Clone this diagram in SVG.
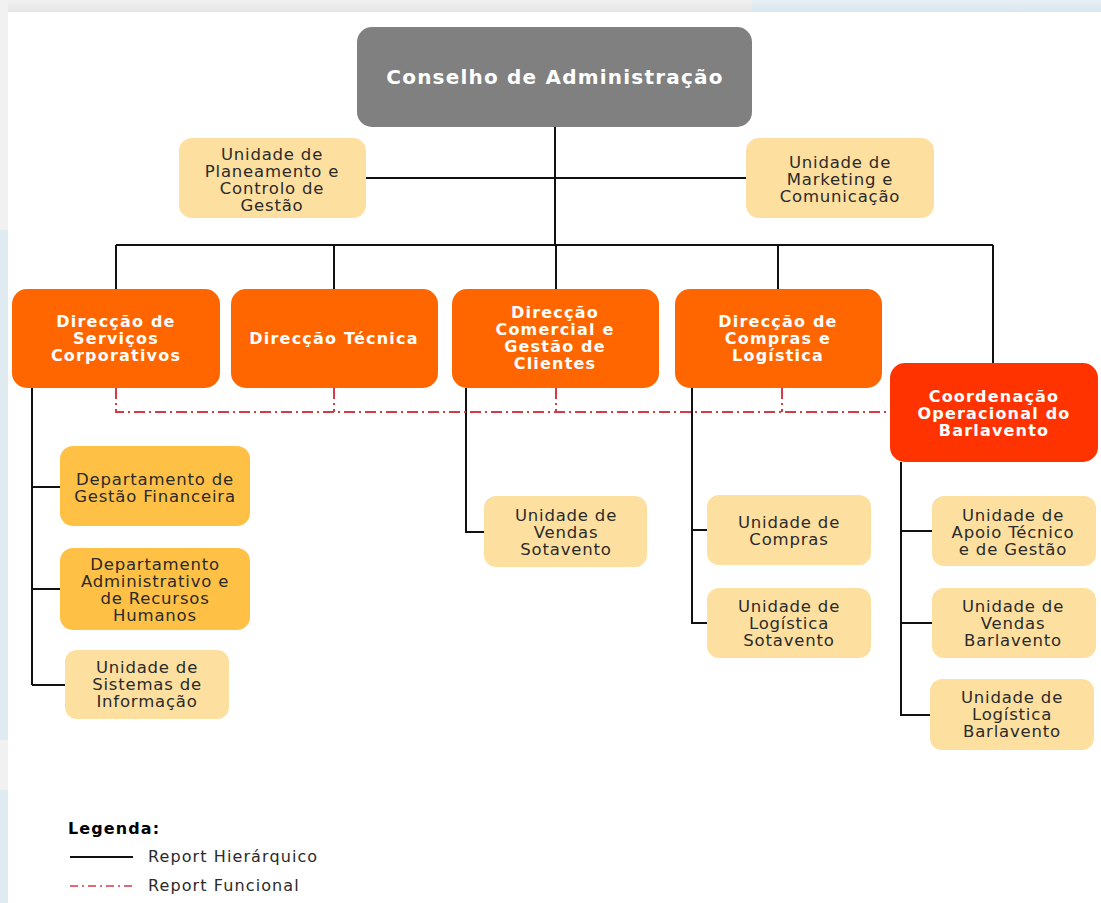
<svg xmlns="http://www.w3.org/2000/svg" width="1101" height="903" viewBox="0 0 1101 903">
<defs>
<linearGradient id="topg" x1="0" y1="0" x2="0" y2="1"><stop offset="0" stop-color="#f0f0f0"/><stop offset="1" stop-color="#e6e6e6"/></linearGradient>
<linearGradient id="topb" x1="0" y1="0" x2="0" y2="1"><stop offset="0" stop-color="#e6eff5"/><stop offset="1" stop-color="#d9e6ee"/></linearGradient>
<style>
.t{font-family:"DejaVu Sans",Verdana,sans-serif;font-size:16.5px;letter-spacing:0.8px;fill:#2a2a2a;text-anchor:middle}
.b{font-family:"DejaVu Sans",Verdana,sans-serif;font-size:16px;letter-spacing:1.2px;font-weight:bold;fill:#ffffff;text-anchor:middle}
.h{fill:none;stroke:#111111;stroke-width:2}
.f{fill:none;stroke:#d63a45;stroke-width:2;stroke-dasharray:11 4 2 4}
.lt{fill:#fde0a0}
.dk{fill:#ffc145}
.or{fill:#ff6600}
.rd{fill:#ff3300}
.lg{font-family:"DejaVu Sans",Verdana,sans-serif;font-size:16px;letter-spacing:1.1px;fill:#2a2a2a}
</style>
</defs>
<rect x="0" y="0" width="1101" height="903" fill="#ffffff"/>
<rect x="0" y="0" width="752" height="12" fill="url(#topg)"/>
<rect x="752" y="0" width="349" height="12" fill="url(#topb)"/>
<rect x="0" y="0" width="8" height="230" fill="#f1f1f1"/>
<rect x="0" y="230" width="8" height="510" fill="#dfeaf1"/>
<rect x="0" y="740" width="8" height="50" fill="#f1f1f1"/>
<rect x="0" y="790" width="8" height="113" fill="#dfeaf1"/>

<g id="connectors">
<path class="h" d="M555 127V245M366 178H746M116 245H993M116 245V289M334 245V289M556 245V289M778 245V289M993 245V363"/>
<path class="h" d="M32 388V685M32 487H60M32 589H60M32 685H65"/>
<path class="h" d="M466 388V532H484"/>
<path class="h" d="M692 388V623H707M692 530H707"/>
<path class="h" d="M901 462V715H930M901 531H932M901 623H932"/>
<path class="f" d="M116 388V412H890"/>
<path class="f" d="M334 388V412M556 388V412M782 388V412"/>
</g>

<g id="conselho"><rect x="357" y="27" width="395" height="100" rx="15" fill="#808080"/><text class="b" x="555" y="84" style="font-size:20px">Conselho de Administração</text></g>
<g id="planeamento"><rect class="lt" x="179" y="138" width="187" height="80" rx="13"/><text class="t" x="272"><tspan x="272" y="160">Unidade de</tspan><tspan x="272" y="177">Planeamento e</tspan><tspan x="272" y="194">Controlo de</tspan><tspan x="272" y="211">Gestão</tspan></text></g>
<g id="marketing"><rect class="lt" x="746" y="138" width="188" height="80" rx="13"/><text class="t"><tspan x="840" y="168">Unidade de</tspan><tspan x="840" y="185">Marketing e</tspan><tspan x="840" y="202">Comunicação</tspan></text></g>

<g id="dsc"><rect class="or" x="12" y="289" width="208" height="99" rx="15"/><text class="b"><tspan x="116" y="327">Direcção de</tspan><tspan x="116" y="344">Serviços</tspan><tspan x="116" y="361">Corporativos</tspan></text></g>
<g id="dt"><rect class="or" x="231" y="289" width="207" height="99" rx="15"/><text class="b" x="334" y="344">Direcção Técnica</text></g>
<g id="dcgc"><rect class="or" x="452" y="289" width="207" height="99" rx="15"/><text class="b"><tspan x="555" y="318">Direcção</tspan><tspan x="555" y="335">Comercial e</tspan><tspan x="555" y="352">Gestão de</tspan><tspan x="555" y="369">Clientes</tspan></text></g>
<g id="dcl"><rect class="or" x="675" y="289" width="207" height="99" rx="15"/><text class="b"><tspan x="778" y="327">Direcção de</tspan><tspan x="778" y="344">Compras e</tspan><tspan x="778" y="361">Logística</tspan></text></g>
<g id="coord"><rect class="rd" x="890" y="363" width="208" height="99" rx="15"/><text class="b"><tspan x="994" y="402">Coordenação</tspan><tspan x="994" y="419">Operacional do</tspan><tspan x="994" y="436">Barlavento</tspan></text></g>

<g id="dgf"><rect class="dk" x="60" y="446" width="190" height="80" rx="13"/><text class="t"><tspan x="155" y="485">Departamento de</tspan><tspan x="155" y="502">Gestão Financeira</tspan></text></g>
<g id="darh"><rect class="dk" x="60" y="548" width="190" height="82" rx="13"/><text class="t"><tspan x="155" y="570">Departamento</tspan><tspan x="155" y="587">Administrativo e</tspan><tspan x="155" y="604">de Recursos</tspan><tspan x="155" y="621">Humanos</tspan></text></g>
<g id="usi"><rect class="lt" x="65" y="650" width="164" height="69" rx="12"/><text class="t"><tspan x="147" y="673">Unidade de</tspan><tspan x="147" y="690">Sistemas de</tspan><tspan x="147" y="707">Informação</tspan></text></g>

<g id="uvs"><rect class="lt" x="484" y="496" width="163" height="71" rx="12"/><text class="t"><tspan x="566" y="521">Unidade de</tspan><tspan x="566" y="538">Vendas</tspan><tspan x="566" y="555">Sotavento</tspan></text></g>
<g id="uc"><rect class="lt" x="707" y="495" width="164" height="70" rx="12"/><text class="t"><tspan x="789" y="528">Unidade de</tspan><tspan x="789" y="545">Compras</tspan></text></g>
<g id="uls"><rect class="lt" x="707" y="588" width="164" height="70" rx="12"/><text class="t"><tspan x="789" y="612">Unidade de</tspan><tspan x="789" y="629">Logística</tspan><tspan x="789" y="646">Sotavento</tspan></text></g>

<g id="uatg"><rect class="lt" x="932" y="496" width="164" height="70" rx="12"/><text class="t"><tspan x="1013" y="521">Unidade de</tspan><tspan x="1013" y="538">Apoio Técnico</tspan><tspan x="1013" y="555">e de Gestão</tspan></text></g>
<g id="uvb"><rect class="lt" x="932" y="588" width="164" height="70" rx="12"/><text class="t"><tspan x="1013" y="612">Unidade de</tspan><tspan x="1013" y="629">Vendas</tspan><tspan x="1013" y="646">Barlavento</tspan></text></g>
<g id="ulb"><rect class="lt" x="930" y="679" width="164" height="71" rx="12"/><text class="t"><tspan x="1012" y="703">Unidade de</tspan><tspan x="1012" y="720">Logística</tspan><tspan x="1012" y="737">Barlavento</tspan></text></g>

<g id="legend">
<text class="lg" x="68" y="834" style="font-weight:bold;fill:#000">Legenda:</text>
<line x1="70" y1="857" x2="133" y2="857" stroke="#111" stroke-width="2"/>
<text class="lg" x="148" y="862">Report Hierárquico</text>
<line x1="70" y1="886" x2="134" y2="886" stroke="#d63a45" stroke-width="1.5" stroke-dasharray="8 4 2 4"/>
<text class="lg" x="148" y="891">Report Funcional</text>
</g>
</svg>
